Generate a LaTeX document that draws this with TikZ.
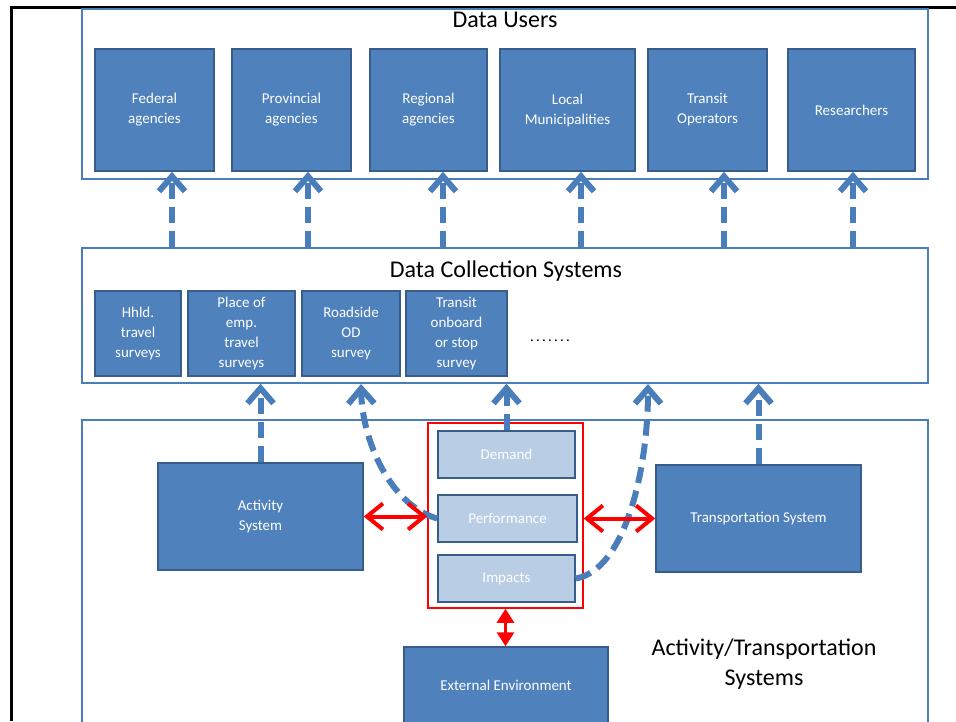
\documentclass[tikz,border=0pt]{standalone}
\usepackage{fontspec}
\setmainfont{Carlito}
\usetikzlibrary{arrows.meta}
\definecolor{boxblue}{HTML}{4F81BD}
\definecolor{boxedge}{HTML}{385D8A}
\definecolor{lightblue}{HTML}{B9CDE5}
\definecolor{contedge}{HTML}{4A7EBB}
\definecolor{arrblue}{HTML}{4A7EBB}
\begin{document}
\begin{tikzpicture}[x=1pt,y=-1pt,
 ubox/.style={draw=boxedge, fill=boxblue, line width=1.5pt, text=white, font=\fontsize{15}{20}\selectfont, align=center, inner sep=0pt},
 lbox/.style={draw=boxedge, fill=lightblue, line width=1.5pt, text=white, font=\fontsize{15}{20}\selectfont, align=center, inner sep=0pt},
 cont/.style={draw=contedge, line width=1.5pt, inner sep=0pt},
 ttl/.style={font=\fontsize{24}{30}\selectfont, align=center, inner sep=0pt},
 barrow/.style={draw=arrblue, line width=6pt, dash pattern=on 16pt off 8pt, -{Straight Barb[length=15pt,width=26pt]}},
 rarrow/.style={draw=red, line width=4pt, {Straight Barb[length=16pt,width=26pt]}-{Straight Barb[length=16pt,width=26pt]}},
 varrow/.style={draw=red, line width=3pt, {Triangle[length=14pt,width=17pt]}-{Triangle[length=14pt,width=17pt]}},
]
\useasboundingbox (0,0) rectangle (956,721);
% black frame
\draw[line width=3pt] (11.5,721) -- (11.5,7.5) -- (956,7.5);

% containers
\node[cont, minimum width=846pt, minimum height=170pt] (du) at (505,94) {};
\node[ttl] (dut) at (505,20) {Data Users};
\node[cont, minimum width=846pt, minimum height=135pt] (dc) at (505,315.5) {};
\node[ttl] (dct) at (506,271) {Data Collection Systems};
\node[cont, minimum width=846pt, minimum height=320pt] (at) at (505,580) {};
\node[ttl] (att) at (764,664) {Activity/Transportation\\Systems};

% data users
\node[ubox, minimum width=119pt, minimum height=122pt] (fed) at (154.5,110) {Federal\\agencies};
\node[ubox, minimum width=119pt, minimum height=122pt] (prov) at (291.5,110) {Provincial\\agencies};
\node[ubox, minimum width=117pt, minimum height=122pt] (reg) at (428.5,110) {Regional\\agencies};
\node[ubox, minimum width=135pt, minimum height=122pt] (loc) at (567.5,110) {Local\\Municipalities};
\node[ubox, minimum width=119pt, minimum height=122pt] (tro) at (707.5,110) {Transit\\Operators};
\node[ubox, minimum width=127pt, minimum height=122pt] (res) at (851.5,110) {Researchers};

% data collection systems
\node[ubox, minimum width=86pt, minimum height=85pt] (hh) at (138,333.5) {Hhld.\\travel\\surveys};
\node[ubox, minimum width=107pt, minimum height=85pt] (pe) at (241.5,333.5) {Place of\\emp.\\travel\\surveys};
\node[ubox, minimum width=98pt, minimum height=85pt] (ro) at (351,333.5) {Roadside\\OD\\survey};
\node[ubox, minimum width=101pt, minimum height=85pt] (tr) at (456.5,333.5) {Transit\\onboard\\or stop\\survey};
\node[font=\fontsize{15}{20}\selectfont, inner sep=0pt] (dots) at (550,341) {.\kern2.2pt.\kern2.2pt.\kern2.2pt.\kern2.2pt.\kern2.2pt.\kern2.2pt.};

% activity / transportation systems
\node[ubox, minimum width=205pt, minimum height=107pt] (act) at (260.5,516.5) {Activity\\System};
\node[draw=red, line width=1.5pt, minimum width=155pt, minimum height=185pt, inner sep=0pt] (red) at (505.5,515.5) {};
\node[lbox, minimum width=137pt, minimum height=47pt] (dem) at (506.5,454.5) {Demand};
\node[lbox, minimum width=139pt, minimum height=47pt] (perf) at (507.5,518.5) {Performance};
\node[lbox, minimum width=137pt, minimum height=47pt] (imp) at (506.5,578.5) {Impacts};
\node[ubox, minimum width=205pt, minimum height=107pt] (trs) at (758.5,518.5) {Transportation System};
\node[ubox, minimum width=204pt, minimum height=76pt] (ext) at (506,685) {External Environment};

% arrows data collection -> users
\draw[barrow] ([xshift=17.5pt]fed.south |- dc.north) -- ([xshift=17.5pt]fed.south);
\draw[barrow] ([xshift=16.5pt]prov.south |- dc.north) -- ([xshift=16.5pt]prov.south);
\draw[barrow] ([xshift=14.5pt]reg.south |- dc.north) -- ([xshift=14.5pt]reg.south);
\draw[barrow] ([xshift=13.5pt]loc.south |- dc.north) -- ([xshift=13.5pt]loc.south);
\draw[barrow] ([xshift=16.5pt]tro.south |- dc.north) -- ([xshift=16.5pt]tro.south);
\draw[barrow] ([xshift=1.5pt]res.south |- dc.north) -- ([xshift=1.5pt]res.south);

% arrows systems -> data collection
\coordinate (c1) at (361,384);
\coordinate (c2) at (648,384);
\draw[barrow] (act.north) -- (act.north |- dc.south);
\draw[barrow] (perf.west) .. controls (390,505) and (362,440) .. (c1);
\draw[barrow] (dem.north) -- (dem.north |- dc.south);
\draw[barrow] (imp.east) .. controls (625,570) and (648,470) .. (c2);
\draw[barrow] (trs.north) -- (trs.north |- dc.south);

% red arrows
\draw[rarrow] (act.east) -- (act.east -| red.west);
\draw[rarrow] (red.east |- trs.west) -- (trs.west);
\draw[varrow] (red.south) -- (red.south |- ext.north);
\end{tikzpicture}
\end{document}
